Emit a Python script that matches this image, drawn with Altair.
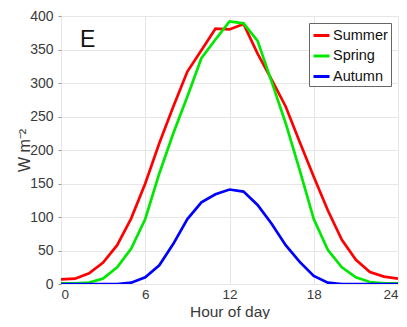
import altair as alt
import pandas as pd

hours = list(range(25))
summer = [7, 8, 16, 32, 58, 98, 150, 210, 265, 317, 349, 381, 380, 388, 344, 305, 265, 212, 160, 110, 66, 36, 18, 11, 8]
spring = [1, 1, 2, 8, 25, 53, 97, 165, 225, 280, 337, 365, 392, 389, 363, 302, 240, 170, 97, 51, 25, 10, 3, 1, 1]
autumn = [0, 0, 0, 0, 0, 2, 10, 28, 60, 97, 122, 134, 141, 138, 118, 90, 58, 33, 12, 2, 0, 0, 0, 0, 0]
seasons = ["Summer", "Spring", "Autumn"]
colors = ["#ff0000", "#00e800", "#0000ff"]

rows = []
for name, vals in zip(seasons, [summer, spring, autumn]):
    for h, v in zip(hours, vals):
        rows.append({"hour": h, "value": v, "season": name})
df = pd.DataFrame(rows)

font = "Liberation Sans"
txt = "#3a3a3a"

lines = alt.Chart(df).mark_line(strokeWidth=2.7, clip=True).encode(
    x=alt.X("hour:Q", scale=alt.Scale(domain=[0, 24], nice=False),
            axis=alt.Axis(values=[0, 6, 12, 18, 24], title="Hour of day",
                          labelFontSize=13.5, titleFontSize=15.5,
                          titleBaseline="alphabetic", titleY=32,
                          labelPadding=3, tickSize=0, domain=False,
                          gridColor="#e6e6e6", labelColor=txt, titleColor=txt,
                          titleFontWeight="normal", labelFont=font, titleFont=font)),
    y=alt.Y("value:Q", scale=alt.Scale(domain=[0, 400], nice=False),
            axis=alt.Axis(values=list(range(0, 401, 50)), title="W m⁻²",
                          labelFontSize=14, titleFontSize=16,
                          titleBaseline="alphabetic", titleX=-32,
                          labelPadding=5, tickSize=3, tickColor="#999999",
                          domain=False,
                          gridColor="#e6e6e6", labelColor=txt, titleColor=txt,
                          titleFontWeight="normal", labelFont=font, titleFont=font)),
    color=alt.Color("season:N", scale=alt.Scale(domain=seasons, range=colors),
                    sort=seasons,
                    legend=alt.Legend(title=None, orient="top-right", offset=7,
                                      symbolType="stroke", symbolStrokeWidth=3,
                                      symbolSize=256, labelFontSize=14.5, labelFont=font,
                                      labelColor="#111111",
                                      strokeColor="#666666", fillColor="white",
                                      padding=3, rowPadding=4.5, labelOffset=2,
                                      cornerRadius=0)),
)

label = alt.Chart(pd.DataFrame({"t": ["E"]})).mark_text(
    fontSize=23, font=font, align="left", baseline="alphabetic", color="#111111"
).encode(x=alt.value(19), y=alt.value(31), text="t:N")

chart = alt.layer(lines, label).properties(
    width=337, height=268,
    autosize=alt.AutoSizeParams(type="none"),
    padding={"left": 53, "top": 8, "right": 1, "bottom": 35},
).configure_view(stroke="#888888", strokeWidth=1).configure(background="white")

chart.save("out.html", embed_options={"renderer": "svg", "actions": False})
